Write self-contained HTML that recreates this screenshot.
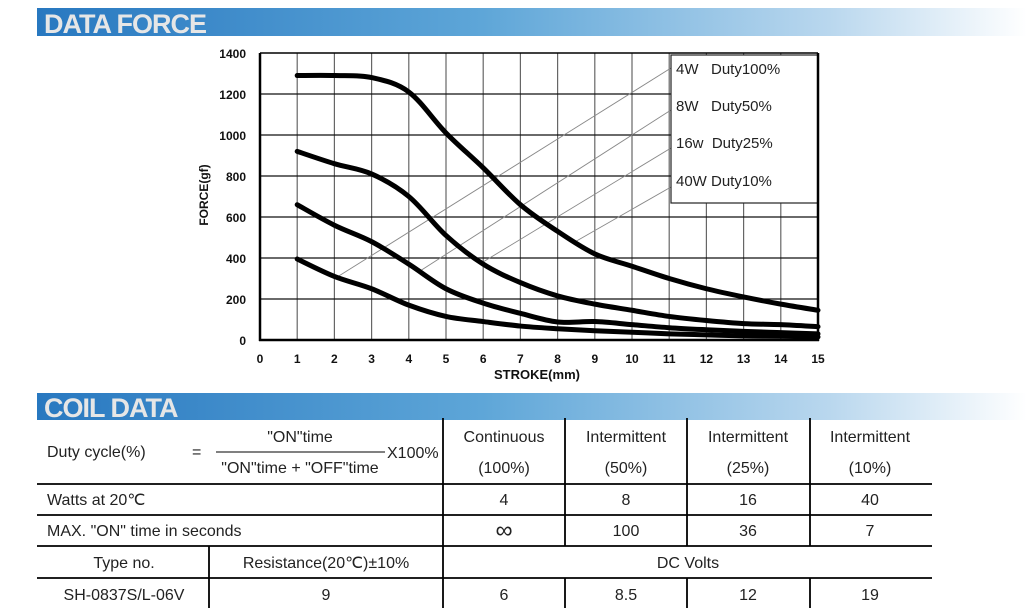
<!DOCTYPE html>
<html><head><meta charset="utf-8"><style>
body{margin:0;width:1027px;height:608px;background:#fff;overflow:hidden}
svg{display:block}
text{font-family:"Liberation Sans",sans-serif}
</style></head><body>
<svg width="1027" height="608" viewBox="0 0 1027 608" xmlns="http://www.w3.org/2000/svg">
<defs>
<linearGradient id="g" x1="0" x2="1" y1="0" y2="0">
<stop offset="0" stop-color="#2878c0"/><stop offset="0.45" stop-color="#5ea6d8"/><stop offset="0.8" stop-color="#b9d7ee"/><stop offset="1" stop-color="#ffffff"/>
</linearGradient>
</defs>
<rect x="37" y="8" width="990" height="28" fill="url(#g)"/>
<text x="44" y="33" font-size="27" font-weight="bold" fill="#e6e6e6" letter-spacing="-1">DATA FORCE</text>
<rect x="37" y="393" width="990" height="27" fill="url(#g)"/>
<text x="44" y="417" font-size="27" font-weight="bold" fill="#e6e6e6" letter-spacing="-1">COIL DATA</text>

<g id="grid" stroke-width="1.2"></g>
<g id="leaders" stroke="#888" stroke-width="0.9" fill="none">
<line x1="334" y1="279" x2="671" y2="68"/>
<line x1="420" y1="271" x2="671" y2="110"/>
<line x1="483" y1="262" x2="671" y2="148"/>
<line x1="573" y1="243" x2="671" y2="187"/>
</g>
<rect x="671" y="55" width="147" height="148" fill="#fff" stroke="#222" stroke-width="1.2"/>
<g font-size="15" fill="#222">
<text x="676" y="74">4W&#160;&#160;&#160;Duty100%</text>
<text x="676" y="111">8W&#160;&#160;&#160;Duty50%</text>
<text x="676" y="148">16w&#160;&#160;Duty25%</text>
<text x="676" y="186">40W Duty10%</text>
</g>
<g id="curves" stroke="#000" stroke-width="5" fill="none" stroke-linecap="round" stroke-linejoin="round"></g>
<line x1="260" y1="53" x2="260" y2="341" stroke="#000" stroke-width="2.5"/>
<line x1="259" y1="340" x2="819" y2="340" stroke="#000" stroke-width="2.5"/>
<line x1="818" y1="53" x2="818" y2="341" stroke="#000" stroke-width="2.5"/>
<line x1="260" y1="53" x2="818" y2="53" stroke="#000" stroke-width="1.5"/>
<g font-size="12" font-weight="bold" text-anchor="end" fill="#111">
<text x="246" y="58">1400</text><text x="246" y="99">1200</text><text x="246" y="140">1000</text>
<text x="246" y="181">800</text><text x="246" y="222">600</text><text x="246" y="263">400</text>
<text x="246" y="304">200</text><text x="246" y="345">0</text>
</g>
<g id="xl" font-size="12" font-weight="bold" text-anchor="middle" fill="#111"></g>
<text x="537" y="379" font-size="13" font-weight="bold" text-anchor="middle" fill="#111">STROKE(mm)</text>
<text transform="translate(208,195) rotate(-90)" font-size="12" font-weight="bold" text-anchor="middle" fill="#111">FORCE(gf)</text>

<g stroke="#000" stroke-width="1.8">
<line x1="37" y1="484" x2="932" y2="484"/>
<line x1="37" y1="515" x2="932" y2="515"/>
<line x1="37" y1="546" x2="932" y2="546"/>
<line x1="37" y1="578" x2="932" y2="578"/>
<line x1="443" y1="418" x2="443" y2="608"/>
<line x1="209" y1="546" x2="209" y2="608"/>
<line x1="565" y1="418" x2="565" y2="546"/><line x1="687" y1="418" x2="687" y2="546"/><line x1="810" y1="418" x2="810" y2="546"/>
<line x1="565" y1="578" x2="565" y2="608"/><line x1="687" y1="578" x2="687" y2="608"/><line x1="810" y1="578" x2="810" y2="608"/>
<line x1="216" y1="452" x2="385" y2="452" stroke-width="1"/>
</g>
<g font-size="16" fill="#222">
<text x="47" y="457">Duty cycle(%)</text>
<text x="192" y="457">=</text>
<text x="300" y="442" text-anchor="middle">"ON"time</text>
<text x="300" y="473" text-anchor="middle">"ON"time + "OFF"time</text>
<text x="387" y="458">X100%</text>
<text x="47" y="505">Watts at 20℃</text>
<text x="47" y="536">MAX. "ON" time in seconds</text>
<g text-anchor="middle">
<text x="504" y="442">Continuous</text><text x="504" y="473">(100%)</text>
<text x="626" y="442">Intermittent</text><text x="626" y="473">(50%)</text>
<text x="748" y="442">Intermittent</text><text x="748" y="473">(25%)</text>
<text x="870" y="442">Intermittent</text><text x="870" y="473">(10%)</text>
<text x="504" y="505">4</text><text x="626" y="505">8</text><text x="748" y="505">16</text><text x="870" y="505">40</text>
<text x="504" y="538" font-size="24">∞</text><text x="626" y="536">100</text><text x="748" y="536">36</text><text x="870" y="536">7</text>
<text x="124" y="568">Type no.</text><text x="326" y="568">Resistance(20℃)±10%</text>
<text x="688" y="568">DC Volts</text>
<text x="124" y="600">SH-0837S/L-06V</text><text x="326" y="600">9</text>
<text x="504" y="600">6</text><text x="626" y="600">8.5</text><text x="748" y="600">12</text><text x="870" y="600">19</text>
</g>
</g>
</svg>
<script>
var NS="http://www.w3.org/2000/svg";
function px(x){return 260+37.2*x}function py(v){return 340-v*0.205}
var g=document.getElementById("grid"),xl=document.getElementById("xl");
for(var i=1;i<15;i++){var l=document.createElementNS(NS,"line");l.setAttribute("x1",px(i));l.setAttribute("x2",px(i));l.setAttribute("y1",53);l.setAttribute("y2",340);l.setAttribute("stroke","#666");g.appendChild(l);}
for(var j=1;j<7;j++){var l=document.createElementNS(NS,"line");l.setAttribute("x1",260);l.setAttribute("x2",818);l.setAttribute("y1",py(j*200));l.setAttribute("y2",py(j*200));l.setAttribute("stroke","#111");g.appendChild(l);}
for(var i=0;i<=15;i++){var t=document.createElementNS(NS,"text");t.setAttribute("x",px(i));t.setAttribute("y",363);t.textContent=i;xl.appendChild(t);}
var D=[[1290,1290,1280,1210,1010,840,660,530,420,360,300,250,210,175,145],
[920,860,810,700,510,370,280,215,175,145,115,95,80,75,65],
[660,560,480,370,250,180,130,88,90,75,60,50,42,36,30],
[395,310,250,170,115,90,68,55,45,38,30,25,20,18,15]];
var c=document.getElementById("curves");
D.forEach(function(a){var P=a.map(function(v,k){return[px(k+1),py(v)]});var d="M"+P[0];
for(var k=0;k<P.length-1;k++){var p0=P[Math.max(k-1,0)],p1=P[k],p2=P[k+1],p3=P[Math.min(k+2,P.length-1)];
d+=" C"+(p1[0]+(p2[0]-p0[0])/6)+","+(p1[1]+(p2[1]-p0[1])/6)+" "+(p2[0]-(p3[0]-p1[0])/6)+","+(p2[1]-(p3[1]-p1[1])/6)+" "+p2;}
var p=document.createElementNS(NS,"path");p.setAttribute("d",d);c.appendChild(p);});
</script>
</body></html>
